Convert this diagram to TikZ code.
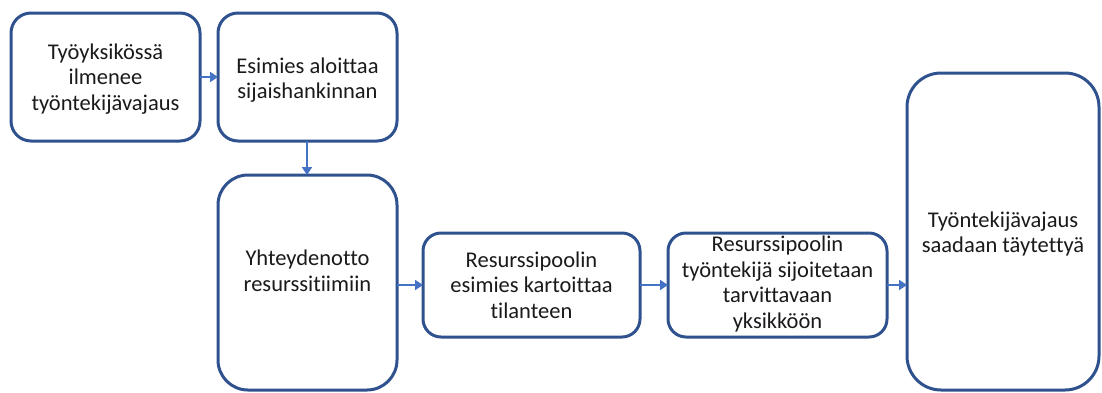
\documentclass[tikz,border=0pt]{standalone}
\usepackage{fontspec}
\setmainfont[Ligatures={NoCommon}]{Carlito}
\usetikzlibrary{arrows.meta}
\definecolor{boxblue}{HTML}{2F528F}
\definecolor{arrblue}{HTML}{4472C4}
\definecolor{txt}{HTML}{1A1A1A}
\begin{document}
\begin{tikzpicture}[x=1pt,y=-1pt,
  box/.style={draw=boxblue,line width=3pt,fill=white},
  lbl/.style={align=center,text=txt,inner sep=0pt,font=\fontsize{22.5}{25.5}\selectfont},
  conn/.style={draw=arrblue,line width=2.4pt,-{Triangle[length=8pt,width=10pt]}}]
\useasboundingbox (0,0) rectangle (1102,392);
% boxes
\draw[box,rounded corners=20pt] (11,13) rectangle (200,141);
\draw[box,rounded corners=20pt] (218,13) rectangle (397,141);
\draw[box,rounded corners=30pt] (218,175) rectangle (397,390);
\draw[box,rounded corners=18pt] (423,233) rectangle (640,337);
\draw[box,rounded corners=18pt] (668,233) rectangle (887,337);
\draw[box,rounded corners=34pt] (907,73) rectangle (1099,390);
% named anchors
\coordinate (b1e) at (200,77);
\coordinate (b2w) at (218,77);
\coordinate (b2s) at (307,141);
\coordinate (b3n) at (307,175);
\coordinate (b3e) at (397,285);
\coordinate (b4w) at (423,285);
\coordinate (b4e) at (640,285);
\coordinate (b5w) at (668,285);
\coordinate (b5e) at (887,285);
\coordinate (b6w) at (907,285);
% labels
\node[lbl] (t1) at (105.5,79) {Työyksikössä\\ilmenee\\työntekijävajaus};
\node[lbl] (t2) at (307.5,80) {Esimies aloittaa\\sijaishankinnan};
\node[lbl] (t3) at (307.5,271) {Yhteydenotto\\resurssitiimiin};
\node[lbl] (t4) at (531.5,285) {Resurssipoolin\\esimies kartoittaa\\tilanteen};
\node[lbl] (t5) at (777.5,284) {Resurssipoolin\\työntekijä sijoitetaan\\tarvittavaan\\yksikköön};
\node[lbl] (t6) at (1003,234) {Työntekijävajaus\\saadaan täytettyä};
% connectors
\draw[conn] (b1e) -- (b2w);
\draw[conn] (b2s) -- (b3n);
\draw[conn] (b3e) -- (b4w);
\draw[conn] (b4e) -- (b5w);
\draw[conn] (b5e) -- (b6w);
\end{tikzpicture}
\end{document}
